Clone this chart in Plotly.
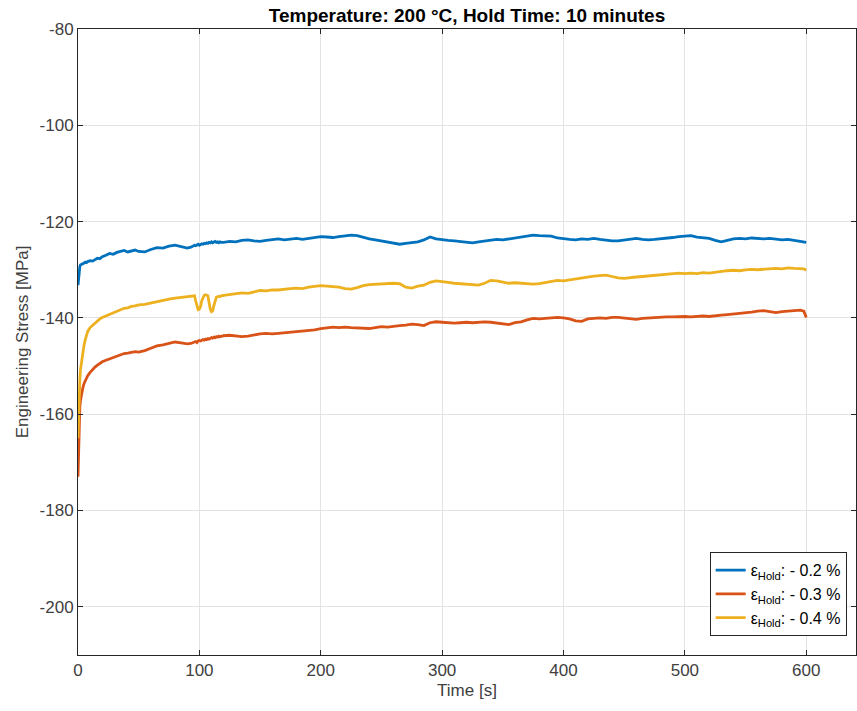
import plotly.graph_objects as go

# Sample times of the hold segment [s]
time_s = [
    0, 0.5, 1, 1.5, 2, 3, 4, 5, 6, 7, 8, 10, 12, 14, 16, 18, 20, 23, 26, 29,
    32, 35, 38, 41, 44, 47, 50, 55, 60, 65, 70, 75, 80, 85, 90, 93, 95,
    96, 97, 98, 99, 100, 101, 102, 103, 104, 105, 106, 107, 108, 109, 110,
    111, 112, 113, 114, 115, 116, 117, 118,
    120, 125, 130, 135, 140, 145, 150, 155, 160, 165, 170, 175, 180, 185, 190, 195, 200,
    205, 210, 215, 220, 225, 230, 235, 240, 245, 250, 255, 260, 265, 270, 275, 280, 285, 290, 295, 300,
    305, 310, 315, 320, 325, 330, 335, 340, 345, 350, 355, 360, 365, 370, 375, 380, 385, 390, 395, 400,
    405, 410, 415, 420, 425, 430, 435, 440, 445, 450, 455, 460, 465, 470, 475, 480, 485, 490, 495, 500,
    505, 510, 515, 520, 525, 530, 535, 540, 545, 550, 555, 560, 565, 570, 575, 580, 585, 590, 595,
    598, 600,
]

# Engineering stress [MPa] for hold strain -0.2 %
stress_02 = [
    -133.2, -131.5, -130.0, -129.4, -129.0, -128.9, -128.7, -128.6, -128.4, -128.5, -128.3,
    -128.1, -128.2, -127.9, -127.6, -127.7, -127.3, -127.0, -126.6, -126.8,
    -126.4, -126.2, -126.0, -126.3, -126.1, -125.9, -126.2, -126.3, -125.8, -125.4, -125.5,
    -125.1, -124.9, -125.2, -125.5, -125.3, -125.0,
    -124.9, -125.0, -124.8, -124.7, -124.9, -124.8, -124.6, -124.7, -124.5, -124.6, -124.4,
    -124.5, -124.3, -124.4, -124.2, -124.4, -124.3, -124.1, -124.3, -124.2, -124.4, -124.2, -124.3,
    -124.3, -124.1, -124.2, -123.9, -123.8, -124.0, -124.1, -123.9, -123.7, -123.6, -123.8,
    -123.6, -123.5, -123.7, -123.5, -123.4, -123.1,
    -123.2, -123.3, -123.1, -122.9, -122.8, -122.9, -123.3, -123.6, -123.8, -124.0, -124.2,
    -124.4, -124.7, -124.5, -124.3, -124.2, -123.8, -123.2, -123.6, -123.8,
    -123.9, -124.0, -124.1, -124.3, -124.4, -124.2, -124.0, -123.8, -123.7, -123.8, -123.6,
    -123.5, -123.3, -123.0, -122.8, -122.9, -123.0, -123.0, -123.4, -123.6,
    -123.7, -123.8, -123.6, -123.7, -123.5, -123.7, -123.9, -124.0, -124.0, -123.8, -123.6,
    -123.5, -123.7, -123.8, -123.7, -123.6, -123.5, -123.3, -123.1, -123.0,
    -122.9, -123.2, -123.4, -123.5, -123.9, -124.2, -123.9, -123.6, -123.5, -123.6, -123.4,
    -123.5, -123.6, -123.5, -123.7, -123.8, -123.7, -123.9, -124.0,
    -124.1, -124.3,
]

# Engineering stress [MPa] for hold strain -0.3 %
stress_03 = [
    -173.0, -165.0, -161.0, -158.5, -157.2, -155.6, -154.5, -153.6, -153.0, -152.4, -152.0,
    -151.3, -150.7, -150.2, -149.8, -149.4, -149.1, -148.8, -148.5, -148.2,
    -147.9, -147.7, -147.4, -147.3, -147.1, -147.0, -147.1, -146.8, -146.3, -145.8, -145.6,
    -145.3, -145.0, -145.2, -145.4, -145.3, -145.2,
    -145.0, -144.9, -145.1, -144.8, -144.7, -144.8, -144.6, -144.5, -144.6, -144.4, -144.5,
    -144.3, -144.4, -144.2, -144.1, -144.2, -144.0, -144.1, -143.9, -144.0, -143.8, -143.9, -143.8,
    -143.7, -143.6, -143.7, -143.9, -143.8, -143.5, -143.3, -143.2, -143.3, -143.2, -143.1,
    -142.9, -142.9, -142.8, -142.6, -142.5, -142.2,
    -142.0, -141.9, -142.0, -141.9, -142.0, -142.1, -142.2, -142.2, -142.0, -141.8, -141.9,
    -141.7, -141.6, -141.5, -141.3, -141.4, -141.6, -141.0, -140.8, -140.9,
    -141.0, -141.1, -141.0, -140.9, -141.0, -140.9, -140.8, -140.9, -141.1, -141.3, -141.4,
    -141.0, -140.8, -140.4, -140.1, -140.2, -140.1, -140.0, -139.9, -140.0,
    -140.2, -140.6, -140.7, -140.2, -140.1, -140.0, -140.1, -139.9, -139.9, -140.0, -140.2,
    -140.3, -140.1, -140.0, -139.9, -139.9, -139.8, -139.8, -139.7, -139.7,
    -139.8, -139.7, -139.6, -139.7, -139.5, -139.4, -139.3, -139.2, -139.1, -139.0, -138.8,
    -138.6, -138.5, -138.7, -138.9, -138.7, -138.6, -138.5, -138.4,
    -138.6, -139.9,
]

# Engineering stress [MPa] for hold strain -0.4 %
stress_04 = [
    -165.0, -158.5, -155.6, -153.0, -150.8, -148.7, -147.0, -145.6, -144.5, -143.6, -142.8,
    -142.0, -141.5, -141.0, -140.6, -140.2, -139.9, -139.6, -139.3, -139.0,
    -138.6, -138.3, -138.0, -137.9, -137.6, -137.5, -137.3, -137.2, -136.9, -136.6, -136.4,
    -136.1, -135.9, -135.7, -135.5, -135.4, -135.3,
    -135.4, -136.5, -137.8, -138.3, -138.2, -137.6, -136.4, -135.6, -135.3, -135.2, -135.3,
    -135.4, -136.8, -138.2, -138.7, -138.5, -137.4, -136.2, -135.7, -135.6, -135.5, -135.6, -135.4,
    -135.3, -135.1, -135.0, -134.8, -134.9, -134.6, -134.3, -134.4, -134.2, -134.2, -134.0,
    -133.9, -133.8, -133.9, -133.6, -133.5, -133.3,
    -133.4, -133.5, -133.6, -133.9, -134.0, -133.7, -133.3, -133.1, -133.0, -133.0, -132.9,
    -132.8, -132.9, -133.6, -133.8, -133.4, -133.2, -132.6, -132.3, -132.4,
    -132.6, -132.8, -132.9, -133.0, -133.1, -133.2, -132.8, -132.2, -132.3, -132.6, -132.8,
    -132.7, -132.8, -132.9, -133.0, -132.9, -132.7, -132.5, -132.2, -132.3,
    -132.1, -131.9, -131.7, -131.4, -131.3, -131.2, -131.1, -131.4, -131.7, -131.8, -131.6,
    -131.5, -131.4, -131.3, -131.2, -131.1, -131.0, -130.9, -130.7, -130.8,
    -130.7, -130.8, -130.6, -130.7, -130.5, -130.3, -130.2, -130.1, -130.2, -130.0, -129.9,
    -130.0, -129.9, -129.8, -129.7, -129.8, -129.6, -129.7, -129.7,
    -129.8, -130.1,
]

series_labels = [
    "ε<sub>Hold</sub>: - 0.2 %",
    "ε<sub>Hold</sub>: - 0.3 %",
    "ε<sub>Hold</sub>: - 0.4 %",
]
series_colors = ["#0072BD", "#D95319", "#EDB120"]
x_ticks = [0, 100, 200, 300, 400, 500, 600]
y_ticks = [-200, -180, -160, -140, -120, -100, -80]
y_tick_labels = ["-200", "-180", "-160", "-140", "-120", "-100", "-80"]

FONT = "Liberation Sans, Arial, sans-serif"

fig = go.Figure()
for ys, name, col in zip([stress_02, stress_03, stress_04], series_labels, series_colors):
    fig.add_trace(go.Scatter(
        x=time_s, y=ys, mode="lines", name=name,
        line=dict(color=col, width=2.8),
    ))

axis_common = dict(
    showgrid=True, gridcolor="#e3e3e3", gridwidth=1,
    showline=True, linecolor="#262626", linewidth=1, mirror="ticks",
    ticks="inside", ticklen=5, tickcolor="#262626",
    zeroline=False,
    tickfont=dict(family=FONT, size=17, color="#404040"),
)

fig.update_layout(
    width=857, height=711,
    margin=dict(l=78, r=1, t=29, b=56),
    paper_bgcolor="white", plot_bgcolor="white",
    title=dict(
        text="<b>Temperature: 200 °C, Hold Time: 10 minutes</b>",
        x=(78 + 856) / 2 / 857, xanchor="center",
        y=1 - 15 / 711, yanchor="middle",
        font=dict(family=FONT, size=19, color="black"),
    ),
    xaxis=dict(
        range=[0, 641], tickvals=x_ticks,
        title=dict(text="Time [s]", font=dict(family=FONT, size=17, color="#404040"), standoff=4),
        **axis_common,
    ),
    yaxis=dict(
        range=[-210, -80], tickvals=y_ticks, ticktext=y_tick_labels,
        title=dict(text="Engineering Stress [MPa]", font=dict(family=FONT, size=17, color="#404040"), standoff=6),
        **axis_common,
    ),
    legend=dict(
        x=0.988, y=0.03, xanchor="right", yanchor="bottom",
        bgcolor="white", bordercolor="#262626", borderwidth=1,
        font=dict(family=FONT, size=16, color="black"),
        tracegroupgap=0, itemwidth=30,
    ),
    showlegend=True,
)

fig.write_html("out.html")
